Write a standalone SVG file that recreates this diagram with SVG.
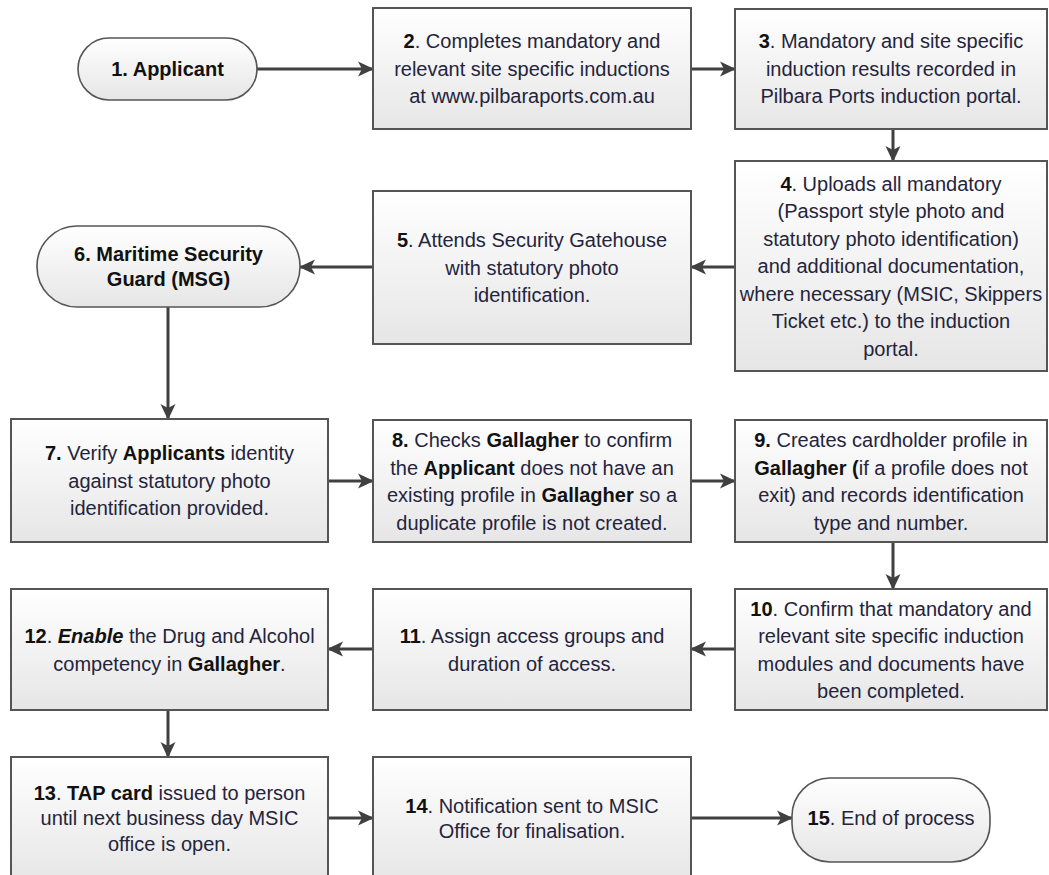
<svg xmlns="http://www.w3.org/2000/svg" width="1049" height="875" viewBox="0 0 1049 875">
<defs>
<linearGradient id="g" x1="0" y1="0" x2="0" y2="1">
<stop offset="0" stop-color="#ffffff"/>
<stop offset="1" stop-color="#e6e6e6"/>
</linearGradient>
<marker id="ah" markerUnits="userSpaceOnUse" markerWidth="16" markerHeight="16" refX="15" refY="8" orient="auto">
<path d="M0,0.5 L16,8 L0,15.5 L4,8 z" fill="#404040"/>
</marker>
<style>
.box{fill:url(#g);stroke:#555;stroke-width:2}
.pill{fill:url(#g);stroke:#555;stroke-width:1.6}
text{font-family:"Liberation Sans",Arial,sans-serif;font-size:20px;fill:#24243c;text-anchor:middle}
.b{font-weight:bold;fill:#111}
.i{font-style:italic}
.c{fill:none;stroke:#404040;stroke-width:3;marker-end:url(#ah)}
</style>
</defs>
<rect width="1049" height="875" fill="#fff"/>
<g id="connectors">
<path class="c" d="M257,69 H373"/>
<path class="c" d="M691,69 H735"/>
<path class="c" d="M893,129 V161"/>
<path class="c" d="M735,267 H691"/>
<path class="c" d="M373,267 H300"/>
<path class="c" d="M168,307 V419"/>
<path class="c" d="M328,481 H373"/>
<path class="c" d="M691,481 H735"/>
<path class="c" d="M893,542 V589"/>
<path class="c" d="M735,649 H691"/>
<path class="c" d="M373,649 H328"/>
<path class="c" d="M168,710 V757"/>
<path class="c" d="M328,818 H373"/>
<path class="c" d="M691,818 H792"/>
</g>
<g id="n1"><rect class="pill" x="78" y="38" width="179" height="62" rx="31"/>
<text x="167.5" y="76"><tspan class="b">1. Applicant</tspan></text></g>
<g id="n2"><rect class="box" x="373" y="8" width="318" height="121"/>
<text x="532" y="48"><tspan class="b">2</tspan>. Completes mandatory and</text>
<text x="532" y="75.5">relevant site specific inductions</text>
<text x="532" y="103">at www.pilbaraports.com.au</text></g>
<g id="n3"><rect class="box" x="735" y="9" width="312" height="120"/>
<text x="891" y="48"><tspan class="b">3</tspan>. Mandatory and site specific</text>
<text x="891" y="75.5">induction results recorded in</text>
<text x="891" y="103">Pilbara Ports induction portal.</text></g>
<g id="n4"><rect class="box" x="735" y="161" width="312" height="210"/>
<text x="891" y="190.5"><tspan class="b">4</tspan>. Uploads all mandatory</text>
<text x="891" y="218">(Passport style photo and</text>
<text x="891" y="245.5">statutory photo identification)</text>
<text x="891" y="273">and additional documentation,</text>
<text x="891" y="300.5">where necessary (MSIC, Skippers</text>
<text x="891" y="328">Ticket etc.) to the induction</text>
<text x="891" y="355.5">portal.</text></g>
<g id="n5"><rect class="box" x="373" y="191" width="318" height="153"/>
<text x="532" y="247"><tspan class="b">5</tspan>. Attends Security Gatehouse</text>
<text x="532" y="274.5">with statutory photo</text>
<text x="532" y="302">identification.</text></g>
<g id="n6"><rect class="pill" x="37" y="226" width="263" height="81" rx="40"/>
<text x="168.5" y="261" class="b">6. Maritime Security</text>
<text x="168.5" y="286" class="b">Guard (MSG)</text></g>
<g id="n7"><rect class="box" x="11" y="419" width="317" height="123"/>
<text x="169.5" y="460"><tspan class="b">7.</tspan> Verify <tspan class="b">Applicants</tspan> identity</text>
<text x="169.5" y="487.5">against statutory photo</text>
<text x="169.5" y="515">identification provided.</text></g>
<g id="n8"><rect class="box" x="373" y="420" width="318" height="122"/>
<text x="532" y="447"><tspan class="b">8.</tspan> Checks <tspan class="b">Gallagher</tspan> to confirm</text>
<text x="532" y="474.5">the <tspan class="b">Applicant</tspan> does not have an</text>
<text x="532" y="502">existing profile in <tspan class="b">Gallagher</tspan> so a</text>
<text x="532" y="529.5">duplicate profile is not created.</text></g>
<g id="n9"><rect class="box" x="735" y="420" width="312" height="122"/>
<text x="891" y="447"><tspan class="b">9.</tspan> Creates cardholder profile in</text>
<text x="891" y="474.5"><tspan class="b">Gallagher (</tspan>if a profile does not</text>
<text x="891" y="502">exit) and records identification</text>
<text x="891" y="529.5">type and number.</text></g>
<g id="n10"><rect class="box" x="735" y="589" width="312" height="121"/>
<text x="891" y="615.5"><tspan class="b">10</tspan>. Confirm that mandatory and</text>
<text x="891" y="643">relevant site specific induction</text>
<text x="891" y="670.5">modules and documents have</text>
<text x="891" y="698">been completed.</text></g>
<g id="n11"><rect class="box" x="373" y="589" width="318" height="121"/>
<text x="532" y="643"><tspan class="b">11</tspan>. Assign access groups and</text>
<text x="532" y="670.5">duration of access.</text></g>
<g id="n12"><rect class="box" x="11" y="589" width="317" height="121"/>
<text x="169.5" y="643"><tspan class="b">12</tspan>. <tspan class="b i">Enable</tspan> the Drug and Alcohol</text>
<text x="169.5" y="670.5">competency in <tspan class="b">Gallagher</tspan>.</text></g>
<g id="n13"><rect class="box" x="11" y="757" width="317" height="125"/>
<text x="169.5" y="799.5"><tspan class="b">13</tspan>. <tspan class="b">TAP card</tspan> issued to person</text>
<text x="169.5" y="825">until next business day MSIC</text>
<text x="169.5" y="850.5">office is open.</text></g>
<g id="n14"><rect class="box" x="373" y="757" width="318" height="125"/>
<text x="532" y="812.5"><tspan class="b">14</tspan>. Notification sent to MSIC</text>
<text x="532" y="838">Office for finalisation.</text></g>
<g id="n15"><rect class="pill" x="792" y="778" width="198" height="84" rx="38"/>
<text x="891" y="825"><tspan class="b">15</tspan>. End of process</text></g>
</svg>
